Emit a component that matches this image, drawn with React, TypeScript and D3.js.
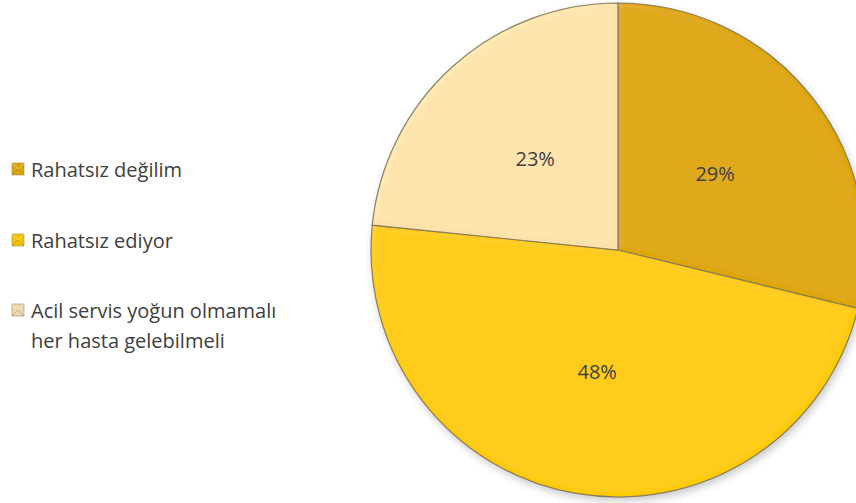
import React from "react";
import * as d3 from "d3";

const categories = ["Rahatsız değilim", "Rahatsız ediyor", "Acil servis yoğun olmamalı her hasta gelebilmeli"];
const legendLines = [["Rahatsız değilim"], ["Rahatsız ediyor"], ["Acil servis yoğun olmamalı", "her hasta gelebilmeli"]];
const values = [28.8, 47.8, 23.4];
const labels = ["29%", "48%", "23%"];
const colors = ["#DEA600", "#FFCA00", "#FCE2AA"];
const markerColors = ["#D9A70A", "#F5C400", "#EBD9B0"];

const W = 856;
const H = 503;

export default function App() {
  const cx = 618;
  const cy = 250;
  const r = 247;
  const pie = d3.pie<number>().sort(null).value((d) => d)(values);
  const arc = d3.arc<d3.PieArcDatum<number>>().innerRadius(0).outerRadius(r);
  const labelArc = d3.arc<d3.PieArcDatum<number>>().innerRadius(r * 0.5).outerRadius(r * 0.5);
  const legendY = [169, 240, 310];
  const font = "'Open Sans', sans-serif";
  return (
    <svg width={W} height={H} style={{ position: "absolute", left: 0, top: 0, background: "#fff" }}>
      <defs>
        <filter id="bevel" x="-10%" y="-10%" width="120%" height="120%">
          <feGaussianBlur in="SourceAlpha" stdDeviation="2.5" result="blur" />
          <feSpecularLighting in="blur" surfaceScale="3" specularConstant="0.5" specularExponent="18" lightingColor="#ffffff" result="spec">
            <feDistantLight azimuth="225" elevation="40" />
          </feSpecularLighting>
          <feComposite in="spec" in2="SourceAlpha" operator="in" result="specOut" />
          <feComposite in="SourceGraphic" in2="specOut" operator="arithmetic" k1="0" k2="1" k3="0.15" k4="0" />
        </filter>
        <filter id="shadow" x="-20%" y="-20%" width="140%" height="140%">
          <feGaussianBlur stdDeviation="4" />
        </filter>
      </defs>
      <circle cx={cx + 2} cy={cy + 4} r={r} fill="#000" opacity={0.22} filter="url(#shadow)" />
      <g transform={`translate(${cx},${cy})`}>
        {pie.map((d, i) => (
          <path key={categories[i]} d={arc(d) || ""} fill={colors[i]} stroke="#8a7c5c" strokeWidth={1.2} filter="url(#bevel)" />
        ))}
        {pie.map((d, i) => {
          const [x, y] = labelArc.centroid(d);
          return (
            <text key={"l" + i} x={x} y={y} textAnchor="middle" dominantBaseline="central" fontFamily={font} fontSize={20} fill="#404040">
              {labels[i]}
            </text>
          );
        })}
      </g>
      {legendLines.map((lines, i) => (
        <g key={"lg" + i}>
          <rect x={12} y={legendY[i] - 6} width={12} height={12} fill={markerColors[i]} stroke="#a08a50" strokeWidth={0.6} />
          <path d={`M${12},${legendY[i] - 6} L${18},${legendY[i]} L${24},${legendY[i] - 6}`} fill="none" stroke="#fff" strokeOpacity={0.5} strokeWidth={0.8} />
          <path d={`M${12},${legendY[i] + 6} L${18},${legendY[i]} L${24},${legendY[i] + 6}`} fill="none" stroke="#7a5a00" strokeOpacity={0.4} strokeWidth={0.8} />
          {lines.map((t, j) => (
            <text key={j} x={31} y={legendY[i] + j * 30} dominantBaseline="central" fontFamily={font} fontSize={20} fill="#404040">
              {t}
            </text>
          ))}
        </g>
      ))}
    </svg>
  );
}
